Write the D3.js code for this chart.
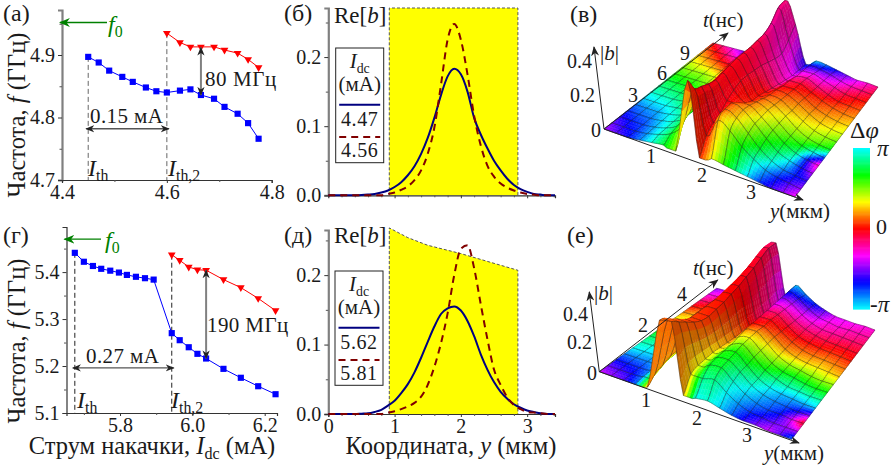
<!DOCTYPE html>
<html><head><meta charset="utf-8">
<script src="https://cdnjs.cloudflare.com/ajax/libs/d3/7.8.5/d3.min.js"></script>
<style>html,body{margin:0;padding:0;background:#fff}svg{display:block}text{font-family:"Liberation Serif",serif;fill:#1a1a1a}</style>
</head><body><svg id="c" width="893" height="469"></svg>
<script>
// ---------- data: panels (а), (г)
const aBlueX=[4.45,4.47,4.49,4.515,4.535,4.56,4.58,4.60,4.625,4.645,4.665,4.69,4.71,4.735,4.755,4.775];
const aBlueF=[4.897,4.888,4.875,4.865,4.857,4.848,4.842,4.84,4.843,4.845,4.836,4.83,4.817,4.806,4.791,4.766];
const aRedX=[4.60,4.625,4.645,4.665,4.69,4.71,4.735,4.755,4.775];
const aRedF=[4.935,4.92,4.913,4.913,4.913,4.908,4.903,4.893,4.88];
const gBlueX=[5.675,5.70,5.725,5.748,5.773,5.797,5.819,5.844,5.869,5.893,5.943,5.965,5.99,6.014,6.038,6.086,6.134,6.182,6.23];
const gBlueF=[5.441,5.422,5.413,5.407,5.403,5.399,5.394,5.39,5.387,5.384,5.27,5.255,5.24,5.226,5.216,5.194,5.175,5.157,5.14];
const gRedX=[5.943,5.965,5.99,6.014,6.038,6.086,6.134,6.182,6.23];
const gRedF=[5.437,5.425,5.411,5.405,5.404,5.384,5.367,5.344,5.318];
// ---------- data: panels (б), (д)
const coordY=[0,.1,.2,.3,.4,.5,.6,.7,.8,.9,1,1.1,1.2,1.3,1.4,1.5,1.6,1.7,1.8,1.9,2,2.1,2.2,2.3,2.4,2.5,2.6,2.7,2.8,2.9,3,3.1,3.2,3.3,3.42];
const bBlue=[0,0,0,0,0,.0003,.001,.002,.004,.007,.012,.019,.029,.042,.06,.083,.112,.145,.172,.183,.175,.15,.112,.088,.068,.05,.036,.024,.015,.009,.005,.002,.001,0,0];
const bRed=[0,0,0,0,0,0,0,0,0,.002,.004,.008,.013,.022,.036,.06,.098,.16,.225,.248,.225,.175,.115,.072,.043,.027,.017,.011,.007,.004,.002,.001,0,0,0];
const dBlue=[0,0,0,0,0,.0005,.001,.003,.006,.012,.019,.03,.043,.06,.081,.104,.126,.144,.152,.155,.149,.134,.112,.086,.064,.046,.032,.022,.014,.009,.005,.003,.001,0,0];
const dRed=[0,0,0,0,0,0,0,0,0,.002,.004,.007,.011,.016,.025,.042,.068,.102,.145,.2,.238,.243,.21,.158,.108,.064,.042,.024,.013,.007,.003,.002,.001,0,0];
const wellY=[.92,2.86];
const wellTopB=[.271,.271];
const wellDY=[.92,1.2,1.5,2,2.5,2.86];
const wellTopD=[.268,.254,.243,.231,.217,.207];
const legendB=["4.47","4.56"], legendD=["5.62","5.81"];
// ---------- data: surfaces, |b| on the drawn mesh (rows: t, front to back; columns: y)
const surfVH=[
[0,0,0,.01,.02,.03,.02,.46,.03,.05,.04,.03,.02,.01,0,0,0],
[0,0,0,.01,.03,.06,.14,.38,.12,.24,.20,.13,.08,.04,.02,.01,0],
[0,0,0,.01,.03,.07,.18,.36,.16,.27,.24,.17,.10,.05,.02,.01,0],
[0,0,0,.01,.03,.08,.20,.34,.18,.27,.25,.19,.12,.06,.03,.01,0],
[0,0,0,.01,.03,.08,.20,.33,.22,.23,.24,.19,.13,.07,.03,.01,0],
[0,0,0,.01,.02,.07,.20,.34,.25,.19,.22,.19,.13,.07,.03,.01,0],
[0,0,0,.01,.02,.07,.20,.35,.27,.16,.20,.18,.13,.07,.03,.01,0],
[0,0,0,0,.02,.06,.18,.36,.27,.15,.18,.17,.12,.07,.03,.01,0],
[0,0,0,0,.02,.05,.16,.36,.26,.13,.17,.16,.12,.07,.03,.01,0],
[0,0,0,0,.01,.04,.15,.36,.25,.11,.15,.15,.11,.06,.03,.01,0],
[0,0,0,0,.01,.03,.13,.37,.23,.09,.14,.14,.10,.06,.03,.01,0],
[0,0,0,0,.01,.02,.10,.38,.21,.07,.12,.13,.09,.05,.02,.01,0],
[0,0,0,0,.01,.02,.08,.42,.20,.05,.11,.11,.08,.05,.02,.01,0],
[0,0,0,0,0,.01,.06,.50,.26,.04,.10,.09,.07,.04,.02,.01,0],
[0,0,0,0,0,.01,.04,.52,.34,.03,.08,.07,.05,.03,.01,.01,0]];
const surfEH=[
[0,0,0,0,.01,.50,.52,.04,.05,.06,.04,.02,.01,.01,0,0,0],
[0,0,0,.01,.06,.46,.48,.14,.14,.16,.10,.05,.02,.01,0,0,0],
[0,0,0,.01,.08,.42,.44,.16,.19,.20,.13,.07,.03,.01,.01,0,0],
[0,0,0,.01,.10,.38,.40,.16,.20,.21,.15,.08,.04,.02,.01,0,0],
[0,0,0,.01,.10,.36,.37,.16,.20,.22,.15,.08,.04,.02,.01,0,0],
[0,0,0,.01,.10,.36,.36,.15,.20,.23,.16,.09,.05,.02,.01,0,0],
[0,0,0,.01,.09,.36,.37,.14,.21,.23,.16,.09,.05,.03,.01,0,0],
[0,0,0,.01,.08,.36,.38,.13,.22,.23,.16,.09,.05,.03,.01,0,0],
[0,0,0,.01,.07,.36,.40,.12,.22,.22,.16,.09,.05,.03,.02,.01,0],
[0,0,0,.01,.06,.37,.42,.12,.22,.22,.15,.09,.05,.03,.02,.01,0],
[0,0,0,.01,.05,.38,.45,.11,.22,.21,.14,.08,.05,.03,.02,.01,0],
[0,0,0,.01,.04,.40,.48,.11,.22,.20,.13,.08,.05,.03,.02,.01,0],
[0,0,0,.01,.03,.42,.52,.10,.22,.19,.12,.07,.04,.03,.02,.01,0],
[0,0,0,0,.02,.44,.56,.10,.22,.18,.11,.06,.04,.02,.02,.01,0],
[0,0,0,0,.02,.44,.56,.08,.22,.16,.10,.06,.03,.02,.01,.01,0]];
// phase (degrees, rows: t on a coarser step; columns: y)
const surfVP=[
[280,260,240,210,170,130,80,10,10,60,110,150,190,230,255,275,300],
[250,235,225,200,170,140,70,-5,-5,20,50,90,130,170,210,235,250],
[215,205,200,180,160,130,60,-5,-5,10,30,60,90,120,150,240,320],
[170,165,160,145,130,100,40,-5,-5,5,20,40,60,75,90,105,125],
[135,130,125,110,100,60,15,-10,-15,0,5,15,30,40,50,60,70],
[95,85,85,70,60,30,0,-15,-30,-35,-20,-10,0,10,20,28,35],
[50,30,10,-10,-20,-30,-30,-35,-50,-60,-70,-65,-60,-40,-15,-5,5],
[0,-30,-60,-90,-110,-90,-60,-25,-40,-120,-170,-150,-120,-95,-70,-50,-30]];
const surfEP=[
[290,275,260,215,30,25,20,40,180,170,190,220,250,270,290,260,210],
[240,235,230,210,35,20,15,60,130,130,170,190,210,225,240,290,360],
[180,185,190,180,35,15,10,55,110,120,130,155,180,195,200,200,190],
[140,150,170,155,30,10,5,40,60,60,80,100,120,130,130,125,120],
[90,100,120,100,25,5,0,20,0,10,25,35,45,50,55,50,45],
[30,40,50,35,15,0,-5,-15,-30,-20,-10,-5,0,5,10,10,5],
[-30,-15,0,-5,-10,-10,-10,-40,-90,-75,-60,-50,-40,-35,-30,-25,-20],
[-90,-75,-60,-50,-40,-30,-20,-90,-170,-150,-130,-100,-70,-65,-60,-55,-50]];
const phaseTicks=["π","0","-π"];
// ---------- layout
const svg=d3.select("#c");
const defs=svg.append("defs");
defs.append("filter").attr("id","soft").append("feGaussianBlur").attr("stdDeviation",.35);
function mk(id,col,sz){defs.append("marker").attr("id",id).attr("viewBox","0 0 10 10").attr("refX",9).attr("refY",5)
 .attr("markerUnits","userSpaceOnUse").attr("markerWidth",sz).attr("markerHeight",sz).attr("orient","auto-start-reverse")
 .append("path").attr("d","M0,1 L10,5 L0,9 L3,5 Z").attr("fill",col);}
mk("ah","#222",9);mk("ag","#008000",11);mk("a3","#222",10);
function T(x,y,parts,o={}){
 const s=o.size||20;
 const t=svg.append("text").attr("x",x).attr("y",y).attr("font-size",s).attr("text-anchor",o.anchor||"start");
 if(o.fill)t.style("fill",o.fill);
 if(o.rot!=null)t.attr("transform",`rotate(${o.rot} ${x} ${y})`);
 if(o.ls)t.attr("letter-spacing",o.ls);
 let shifted=false;
 (Array.isArray(parts)?parts:[parts]).forEach(p=>{
  const str=Array.isArray(p)?p[0]:p, k=Array.isArray(p)?p[1]:"";
  const ts=t.append("tspan").text(str);
  if(o.fill)ts.style("fill",o.fill);
  if(k==="i")ts.attr("font-style","italic");
  if(k==="sub"){ts.attr("font-size",s*.66).attr("dy",s*.22);shifted=true;}
  else if(shifted){ts.attr("dy",-s*.22);shifted=false;}
 });
 return t;
}
function axes(xs,ys,xTicks,xMin,yTicks,yMin,fx,fy,showX,yStyle){
 const gy=svg.append("g").attr("transform",`translate(${xs.range()[0]},0)`)
  .call(d3.axisLeft(ys).tickValues(yTicks).tickSize(4).tickPadding(3).tickFormat(fy));
 gy.select(".domain").attr("stroke",yStyle.c).attr("stroke-width",yStyle.w);
 gy.selectAll("line").attr("stroke","#333");
 svg.append("g").attr("transform",`translate(${xs.range()[0]},0)`).call(d3.axisLeft(ys).tickValues(yMin).tickSize(2.5).tickFormat(""))
  .call(g=>{g.select(".domain").remove();g.selectAll("line").attr("stroke","#555");g.selectAll("text").remove();});
 const gx=svg.append("g").attr("transform",`translate(0,${ys.range()[0]})`)
  .call(d3.axisBottom(xs).tickValues(xTicks).tickSize(3).tickPadding(2).tickFormat(showX?fx:""));
 gx.select(".domain").attr("stroke","#333").attr("stroke-width",1.2);
 gx.selectAll("line").attr("stroke","#333");
 if(!showX)gx.selectAll("text").remove();
 svg.append("g").attr("transform",`translate(0,${ys.range()[0]})`).call(d3.axisBottom(xs).tickValues(xMin).tickSize(2).tickFormat(""))
  .call(g=>{g.select(".domain").remove();g.selectAll("line").attr("stroke","#555");g.selectAll("text").remove();});
 [gy,gx].forEach(g=>g.selectAll("text").attr("font-size",20).style("font-family",'"Liberation Serif",serif').style("fill","#1a1a1a"));
}
function series(xs,ys,X,Y,col,sym,size,rot){
 const pts=X.map((x,i)=>[xs(x),ys(Y[i])]);
 svg.append("path").attr("d",d3.line()(pts)).attr("fill","none").attr("stroke",col).attr("stroke-width",1);
 svg.append("g").selectAll("path").data(pts).join("path")
  .attr("d",d3.symbol().type(sym).size(size)).attr("fill",col)
  .attr("transform",d=>`translate(${d[0]},${d[1]}) rotate(${rot})`);
}
function freqPanel(o){
 const {xs,ys}=o;
 svg.append("line").attr("x1",xs(o.d1)).attr("x2",xs(o.d1)).attr("y1",ys(o.d1f)).attr("y2",ys.range()[0]).attr("stroke",o.dash).attr("stroke-width",1).attr("stroke-dasharray","5,3");
 svg.append("line").attr("x1",xs(o.d2)).attr("x2",xs(o.d2)).attr("y1",ys(o.d2f)).attr("y2",ys.range()[0]).attr("stroke",o.dash).attr("stroke-width",1).attr("stroke-dasharray","5,3");
 axes(xs,ys,o.xt,o.xm,o.yt,o.ym,d3.format(".1f"),d3.format(".1f"),true,o.yStyle);
 series(xs,ys,o.bx,o.bf,"#0000ff",d3.symbolSquare,38,0);
 series(xs,ys,o.rx,o.rf,"#ff0000",d3.symbolTriangle,26,180);
 svg.append("line").attr("x1",o.f0x).attr("x2",xs.range()[0]-2).attr("y1",ys(o.f0)).attr("y2",ys(o.f0)).attr("stroke","#008000").attr("stroke-width",1.3).attr("marker-end","url(#ag)");
 svg.append("line").attr("x1",xs(o.d1)-2).attr("x2",xs(o.d2)+2).attr("y1",ys(o.wf)).attr("y2",ys(o.wf)).attr("stroke","#555").attr("stroke-width",1.3).attr("marker-end","url(#ah)").attr("marker-start","url(#ah)");
 svg.append("line").attr("x1",xs(o.gx)).attr("x2",xs(o.gx)).attr("y1",ys(o.gt)).attr("y2",ys(o.gb)).attr("stroke","#808080").attr("stroke-width",2).attr("marker-end","url(#ah)").attr("marker-start","url(#ah)");
}
freqPanel({xs:d3.scaleLinear([4.4,4.8],[62,271.7]),ys:d3.scaleLinear([4.7,4.972],[180,10]),
 d1:4.45,d1f:4.897,d2:4.60,d2f:4.935,xt:[4.4,4.6,4.8],xm:[4.5,4.7],yt:[4.7,4.8,4.9],ym:[4.75,4.85,4.95],yStyle:{c:"#808080",w:2.2},
 bx:aBlueX,bf:aBlueF,rx:aRedX,rf:aRedF,f0:4.952,f0x:107,wf:4.782,gx:4.665,gt:4.912,gb:4.836,dash:"#666"});
freqPanel({xs:d3.scaleLinear([5.652,6.234],[66.5,277]),ys:d3.scaleLinear([5.1,5.496],[413,227]),
 d1:5.675,d1f:5.441,d2:5.943,d2f:5.437,xt:[5.8,6.0,6.2],xm:[5.7,5.9,6.1],yt:[5.1,5.2,5.3,5.4],ym:[5.15,5.25,5.35,5.45],yStyle:{c:"#333",w:1.2},
 bx:gBlueX,bf:gBlueF,rx:gRedX,rf:gRedF,f0:5.47,f0x:101,wf:5.196,gx:6.038,gt:5.404,gb:5.216,dash:"#222"});
function profPanel(o){
 const {xs,ys}=o;
 const area=d3.area().x(d=>xs(d[0])).y0(ys(0)).y1(d=>ys(d[1]));
 const top=o.wx.map((x,i)=>[x,o.wt[i]]);
 svg.append("path").attr("d",area(top)).attr("fill","#ffff00");
 svg.append("path").attr("d",d3.line().x(d=>d[0]).y(d=>d[1])([[xs(o.wx[0]),ys(0)],...top.map(d=>[xs(d[0]),ys(d[1])]),[xs(o.wx[o.wx.length-1]),ys(0)]]))
  .attr("fill","none").attr("stroke","#555").attr("stroke-dasharray","3,2").attr("stroke-width",1);
 axes(xs,ys,[1,2,3].concat(o.showX?[0]:[]),d3.range(.2,3.41,.2).filter(v=>Math.abs(v%1)>.01&&Math.abs(v%1-1)>.01),[0,.1,.2],[.05,.15,.25],d3.format("d"),d3.format(".1f"),o.showX,{c:"#808080",w:2.2});
 const ln=d3.line().x((d,i)=>xs(coordY[i])).y(d=>ys(d)).curve(d3.curveMonotoneX);
 svg.append("path").attr("d",ln(o.blue)).attr("fill","none").attr("stroke","#000080").attr("stroke-width",2);
 svg.append("path").attr("d",ln(o.red)).attr("fill","none").attr("stroke","#800000").attr("stroke-width",2).attr("stroke-dasharray","7,5");
 const b=o.box;
 svg.append("rect").attr("x",b.x0).attr("y",b.y0).attr("width",b.x1-b.x0).attr("height",b.y1-b.y0).attr("fill","#fff").attr("stroke","#222");
 const cx=(b.x0+b.x1)/2;
 T(cx,b.y0+20,[["I","i"],["dc","sub"]],{anchor:"middle",size:21});
 T(cx,b.y0+42.5,"(мА)",{anchor:"middle",size:21});
 svg.append("line").attr("x1",b.x0+3.5).attr("x2",b.x1-3.5).attr("y1",b.y0+56.7).attr("y2",b.y0+56.7).attr("stroke","#000080").attr("stroke-width",2);
 T(cx,b.y0+78,o.leg[0],{anchor:"middle",size:20,ls:.6});
 svg.append("line").attr("x1",b.x0+3.5).attr("x2",b.x1-3.5).attr("y1",b.y0+89).attr("y2",b.y0+89).attr("stroke","#800000").attr("stroke-width",2).attr("stroke-dasharray","7,5");
 T(cx,b.y0+109,o.leg[1],{anchor:"middle",size:20,ls:.6});
 T(334,o.reY,["Re[",["b","i"],"]"],{size:23});
}
profPanel({xs:d3.scaleLinear([0,3.42],[328.3,555]),ys:d3.scaleLinear([0,.271],[195.3,8]),wx:wellY,wt:wellTopB,blue:bBlue,red:bRed,box:{x0:335.7,x1:383.7,y0:48,y1:162.7},leg:legendB,reY:22.7,showX:false});
profPanel({xs:d3.scaleLinear([0,3.42],[328.3,555]),ys:d3.scaleLinear([0,.265],[414,230]),wx:wellDY,wt:wellTopD,blue:dBlue,red:dRed,box:{x0:335,x1:383,y0:271,y1:385.3},leg:legendD,reY:243,showX:true});
// ---------- surfaces
function catmull(a,b,c,d,t){
 const v=.5*((2*b)+(-a+c)*t+(2*a-5*b+4*c-d)*t*t+(-a+3*b-3*c+d)*t*t*t);
 return Math.max(Math.min(b,c),Math.min(Math.max(b,c),v));
}
function heightAt(H,fi,fj){
 const nj=H.length,ni=H[0].length;
 const cl=(v,m)=>Math.max(0,Math.min(m,v));
 const i=Math.min(ni-2,Math.floor(fi)),j=Math.min(nj-2,Math.floor(fj)),ti=fi-i,tj=fj-j;
 const rowV=r=>catmull(H[r][cl(i-1,ni-1)],H[r][i],H[r][i+1],H[r][cl(i+2,ni-1)],ti);
 return catmull(rowV(cl(j-1,nj-1)),rowV(j),rowV(j+1),rowV(cl(j+2,nj-1)),tj);
}
function phaseAt(P,u,v){
 const nj=P.length-1,ni=P[0].length-1;
 const fi=u*ni,fj=v*nj,i=Math.min(ni-1,Math.floor(fi)),j=Math.min(nj-1,Math.floor(fj)),a=fi-i,b=fj-j;
 return d3.interpolateNumber(d3.interpolateNumber(P[j][i],P[j][i+1])(a),d3.interpolateNumber(P[j+1][i],P[j+1][i+1])(a))(b);
}
function surface(o){
 const H=o.H,nj=H.length-1,ni=H[0].length-1,S=4;
 const zs=d3.scaleLinear([0,1],[0,o.zPx]);
 const lerp=(a,b,t)=>a+(b-a)*t;
 const qx=(u,v)=>lerp(lerp(o.q[0][0],o.q[1][0],u),lerp(o.q[2][0],o.q[3][0],u),v);
 const qy=(u,v)=>lerp(lerp(o.q[0][1],o.q[1][1],u),lerp(o.q[2][1],o.q[3][1],u),v);
 const pt=(fi,fj)=>{const u=fi/ni,v=fj/nj,h=heightAt(H,fi,fj);return [qx(u,v),qy(u,v)-zs(h)*(1-o.persp*v)];};
 const quads=[];
 for(let j=0;j<nj*S;j++)for(let i=0;i<ni*S;i++){
  const f0=i/S,f1=(i+1)/S,g0=j/S,g1=(j+1)/S;
  const a=pt(f0,g0),b=pt(f1,g0),c=pt(f1,g1),d=pt(f0,g1);
  const um=(f0+f1)/2/ni,vm=(g0+g1)/2/nj;
  const hue=((phaseAt(o.P,um,vm)%360)+360)%360;
  const dz=((b[1]-a[1])+(c[1]-d[1]))/2-(qy(f1/ni,vm)-qy(f0/ni,vm));
  const l=.5-.12*Math.max(0,Math.min(1,dz/10));
  const col=d3.hsl(hue,1,l).formatRgb();
  const lines=[];
  if(j%S===0)lines.push([a,b]);
  if(i%S===0)lines.push([a,d]);
  if((j+1)%S===0)lines.push([d,c]);
  if((i+1)%S===0)lines.push([b,c]);
  quads.push({poly:[a,b,c,d],col,lines,key:qy(um,vm)});
 }
 quads.sort((p,q)=>p.key-q.key);
 const g=svg.append("g").attr("filter","url(#soft)");
 quads.forEach(q=>{
  g.append("path").attr("d",d3.line()(q.poly)+"Z").attr("fill",q.col).attr("stroke",q.col).attr("stroke-width",.4);
  q.lines.forEach(l=>g.append("path").attr("d",d3.line()(l)).attr("stroke","#1a1a1a").attr("stroke-opacity",.6).attr("stroke-width",.65).attr("fill","none"));
 });
 const O=o.q[0];
 o.arrows.forEach(t=>svg.append("line").attr("x1",O[0]).attr("y1",O[1]).attr("x2",t[0]).attr("y2",t[1]).attr("stroke","#222").attr("stroke-width",1).attr("marker-end","url(#a3)"));
}
surface({H:surfVH,P:surfVP,q:[[604,129],[795,197],[713,43],[878,87]],zPx:170,persp:.3,arrows:[[594,47],[803,200],[728,33]]});
surface({H:surfEH,P:surfEP,q:[[599.3,371.7],[791.7,439.3],[716.7,288.3],[875,330]],zPx:145,persp:.25,arrows:[[589.3,292],[799,443],[717.7,280]]});
// colour bar
const phaseY=d3.scaleLinear([180,-180],[148,309]);
svg.append("g").selectAll("rect").data(d3.range(180,-180,-2)).join("rect")
 .attr("x",853).attr("width",17).attr("y",d=>phaseY(d)).attr("height",Math.abs(phaseY(0)-phaseY(2))+.6)
 .attr("fill",d=>d3.hsl((d+360)%360,1,.5).formatRgb());
T(850,138,["Δ",["φ","i"]],{size:24});
T(877,156,[[phaseTicks[0],"i"]],{size:23});
T(876,234,phaseTicks[1],{size:22});
T(870,312,["-",["π","i"]],{size:23});
const S3=20;
T(3,21,"(а)",{size:24});T(284,21,"(б)",{size:24});T(570,22,"(в)",{size:24});
T(3,243,"(г)",{size:24});T(284,243,"(д)",{size:24});T(567,243,"(е)",{size:24});
T(25,115,["Частота, ",["f","i"]," (ГГц)"],{rot:-90,anchor:"middle",size:24.5});
T(25,341,["Частота, ",["f","i"]," (ГГц)"],{rot:-90,anchor:"middle",size:24.5});
T(152,454,["Струм накачки, ",["I","i"],["dc","sub"]," (мА)"],{anchor:"middle",size:24.5});
T(451,454,["Координата, ",["y","i"]," (мкм)"],{anchor:"middle",size:24.5});
T(108,32,[["f","i"],["0","sub"]],{size:24,fill:"#008000"});
T(105,248,[["f","i"],["0","sub"]],{size:24,fill:"#008000"});
T(88,176,[["I","i"],["th","sub"]],{size:24});T(168,176,[["I","i"],["th,2","sub"]],{size:24});
T(77,408,[["I","i"],["th","sub"]],{size:24});T(171,408,[["I","i"],["th,2","sub"]],{size:24});
T(90,122.7,"0.15 мА",{size:21,ls:.4});T(86,362.7,"0.27 мА",{size:21,ls:.4});
T(205,86,"80 МГц",{size:21,ls:.6});T(207,331.7,"190 МГц",{size:21,ls:.4});
T(592,68,"0.4",{anchor:"end",size:S3});T(595,102,"0.2",{anchor:"end",size:S3});T(601,137,"0",{anchor:"end",size:S3});
T(600,60,["|",["b","i"],"|"],{size:21});
T(633,102,"3",{anchor:"middle",size:S3});T(662,80,"6",{anchor:"middle",size:S3});T(685,60,"9",{anchor:"middle",size:S3});
T(703,27,[["t","i"],"(нс)"],{size:21});
T(651,163,"1",{anchor:"middle",size:S3});T(702,182,"2",{anchor:"middle",size:S3});T(751,199,"3",{anchor:"middle",size:S3});
T(770,218,[["y","i"],"(мкм)"],{size:21});
T(588,321,"0.4",{anchor:"end",size:S3});T(592,349,"0.2",{anchor:"end",size:S3});T(597,380,"0",{anchor:"end",size:S3});
T(594,300,["|",["b","i"],"|"],{size:21});
T(643,332,"2",{anchor:"middle",size:S3});T(682,301,"4",{anchor:"middle",size:S3});
T(693,275,[["t","i"],"(нс)"],{size:21});
T(646,407,"1",{anchor:"middle",size:S3});T(697,425,"2",{anchor:"middle",size:S3});T(747,442,"3",{anchor:"middle",size:S3});
T(764,460,[["y","i"],"(мкм)"],{size:21});
</script></body></html>
